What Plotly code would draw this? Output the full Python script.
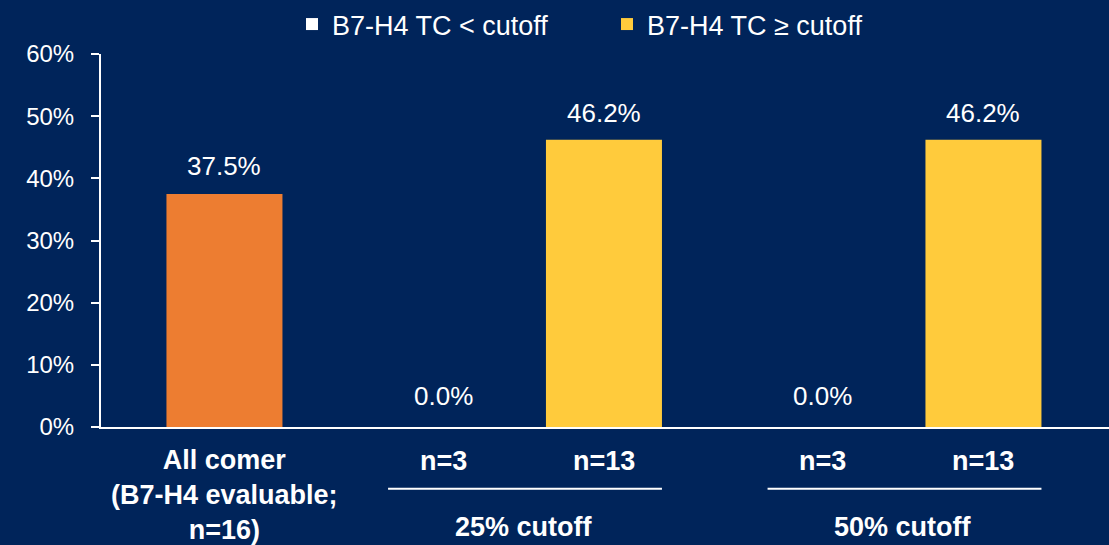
import plotly.graph_objects as go

# ---------------- data ----------------
categories = ["All comer", "25% cutoff", "50% cutoff"]
all_comer_value = [37.5]
below_cutoff = [0.0, 0.0]          # B7-H4 TC < cutoff
above_cutoff = [46.2, 46.2]        # B7-H4 TC >= cutoff
n_all = 16
n_below = [3, 3]
n_above = [13, 13]
y_ticks = [0, 10, 20, 30, 40, 50, 60]

# ---------------- style ----------------
BG = "#00245A"
ORANGE = "#ED7D31"
YELLOW = "#FFCB3C"
WHITE = "#FFFFFF"
FONT = "Liberation Sans, Arial, sans-serif"

BARGAP = 0.152
BARGROUPGAP = 0.279
slot = (1 - BARGAP) / 2
offset = slot / 2
half_w = slot * (1 - BARGROUPGAP) / 2

# plot area in px
L, R, T, B = 101, 0, 53, 118
W, H = 1109, 545
plot_h = H - T - B

def py(pixel_y):
    """paper y for a pixel row"""
    return (H - B - pixel_y) / plot_h

fig = go.Figure()
fig.add_trace(go.Bar(
    x=categories[1:], y=below_cutoff, name="B7-H4 TC < cutoff",
    marker=dict(color=WHITE, line=dict(width=0)), offsetgroup="a",
))
fig.add_trace(go.Bar(
    x=categories[1:], y=above_cutoff, name="B7-H4 TC ≥ cutoff",
    marker=dict(color=YELLOW, line=dict(width=0)), offsetgroup="b",
))
fig.add_trace(go.Bar(
    x=categories[:1], y=all_comer_value, name="All comer", showlegend=False,
    marker=dict(color=ORANGE, line=dict(width=0)), offsetgroup="b",
))

annotations = []
# data labels
label_font = dict(family=FONT, size=26, color=WHITE)
annotations.append(dict(x=0 + offset, y=all_comer_value[0], xref="x", yref="y",
                        text=f"{all_comer_value[0]:.1f}%", showarrow=False,
                        yanchor="middle", yshift=28, font=label_font))
for i in range(len(below_cutoff)):
    annotations.append(dict(x=i + 1 - offset, y=below_cutoff[i], xref="x", yref="y",
                            text=f"{below_cutoff[i]:.1f}%", showarrow=False,
                            yanchor="middle", yshift=31, font=label_font))
    annotations.append(dict(x=i + 1 + offset, y=above_cutoff[i], xref="x", yref="y",
                            text=f"{above_cutoff[i]:.1f}%", showarrow=False,
                            yanchor="middle", yshift=27, font=label_font))

# category labels
bold_font = dict(family=FONT, size=27, color=WHITE, weight="bold")
annotations.append(dict(x=0 + offset, y=py(495), xref="x", yref="paper",
                        text=f"<b>All comer<br>(B7-H4 evaluable;<br>n={n_all})</b>",
                        showarrow=False, yanchor="middle", font=bold_font))
shapes = []
for i in range(len(below_cutoff)):
    c = i + 1
    annotations.append(dict(x=c - offset, y=py(461), xref="x", yref="paper",
                            text=f"<b>n={n_below[i]}</b>", showarrow=False,
                            yanchor="middle", font=bold_font))
    annotations.append(dict(x=c + offset, y=py(461), xref="x", yref="paper",
                            text=f"<b>n={n_above[i]}</b>", showarrow=False,
                            yanchor="middle", font=bold_font))
    annotations.append(dict(x=c, y=py(527), xref="x", yref="paper",
                            text=f"<b>{categories[c]}</b>", showarrow=False,
                            yanchor="middle", font=bold_font))
    shapes.append(dict(type="line", xref="x", yref="paper",
                       x0=c - offset - half_w + 0.008, x1=c + offset + half_w,
                       y0=py(489), y1=py(489),
                       line=dict(color=WHITE, width=2)))

px_per_cat = 379.5
center0 = 144
fig.update_layout(
    width=W, height=H,
    margin=dict(l=L, r=R, t=T, b=B, pad=0),
    paper_bgcolor=BG, plot_bgcolor=BG,
    barmode="group", bargap=BARGAP, bargroupgap=BARGROUPGAP,
    font=dict(family=FONT, color=WHITE, size=24),
    showlegend=True,
    legend=dict(orientation="h", x=(292 - L) / (W - L - R), xanchor="left",
                y=py(-1), yanchor="top",
                font=dict(family=FONT, size=27, color=WHITE),
                bgcolor="rgba(0,0,0,0)", entrywidth=270, entrywidthmode="pixels",
                traceorder="normal"),
    xaxis=dict(type="category", categoryorder="array", categoryarray=categories,
               range=[(L - center0) / px_per_cat, (W - R - center0) / px_per_cat],
               showticklabels=False, ticks="", showgrid=False, zeroline=False,
               showline=True, linecolor=WHITE, linewidth=2, fixedrange=True),
    yaxis=dict(range=[0, 60], tickvals=y_ticks, ticktext=[f"{v}%" for v in y_ticks],
               showgrid=False, zeroline=False, showline=True, linecolor=WHITE,
               linewidth=2, ticks="outside", ticklen=8, tickwidth=2, tickcolor=WHITE,
               tickfont=dict(family=FONT, size=24, color=WHITE),
               ticklabelstandoff=12, fixedrange=True),
    annotations=annotations,
    shapes=shapes,
)

fig.write_html("out.html")
